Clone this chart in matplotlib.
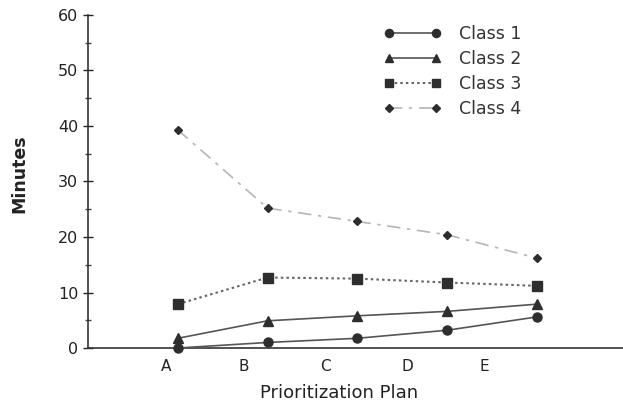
import matplotlib
matplotlib.use("Agg")
import matplotlib.pyplot as plt
from matplotlib.ticker import MultipleLocator

plans = ["A", "B", "C", "D", "E"]
class1 = [0.0, 1.0, 1.75, 3.2, 5.6]
class2 = [1.75, 4.9, 5.8, 6.6, 7.9]
class3 = [7.9, 12.7, 12.5, 11.8, 11.2]
class4 = [39.3, 25.2, 22.8, 20.4, 16.2]

point_x = [0, 1, 2, 3, 4]
label_x = [-0.13, 0.74, 1.65, 2.56, 3.41]

plt.rcParams['font.family'] = ['DejaVu Sans']
fig = plt.figure(figsize=(6.23, 4.04), dpi=100)
ax = fig.add_axes([0.1413, 0.1386, 0.8587, 0.8243])

ink = "#2e2e2e"
ax.plot(point_x, class1, color="#555555", lw=1.2, marker="o", ms=6.5,
        mfc=ink, mec=ink, label="Class 1", clip_on=False, zorder=3)
ax.plot(point_x, class2, color="#555555", lw=1.2, marker="^", ms=6.5,
        mfc=ink, mec=ink, label="Class 2", clip_on=False, zorder=3)
ax.plot(point_x, class3, color="#666666", lw=1.5, ls=(0, (1.2, 1.5)), marker="s", ms=6.5,
        mfc=ink, mec=ink, label="Class 3", clip_on=False, zorder=3)
ax.plot(point_x, class4, color="#b5b5b5", lw=1.2, ls=(0, (8, 4, 2, 4)), marker="D", ms=4.5,
        mfc=ink, mec=ink, label="Class 4", clip_on=False, zorder=3)

ax.set_xlim(-1.0, 4.96)
ax.set_ylim(0, 60)
ax.set_xticks(label_x)
ax.set_xticklabels(plans, fontsize=11, color="#222222")
ax.tick_params(axis="x", length=0, pad=8)
ax.yaxis.set_major_locator(MultipleLocator(10))
ax.yaxis.set_minor_locator(MultipleLocator(5))
ax.tick_params(axis="y", which="major", direction="inout", length=7, width=1, labelsize=11.5,
               colors="#222222")
ax.tick_params(axis="y", which="minor", direction="inout", length=5, width=1, colors="#444444")
for s in ["top", "right"]:
    ax.spines[s].set_visible(False)
ax.spines["left"].set_color("#333333")
ax.spines["bottom"].set_color("#333333")
ax.spines["left"].set_linewidth(1.2)
ax.spines["bottom"].set_linewidth(1.2)

ax.set_ylabel("Minutes", fontsize=12.5, fontweight="bold", color="#222222")
ax.yaxis.set_label_coords(-0.112, 0.523)
ax.set_xlabel("Prioritization Plan", fontsize=13, color="#222222")
ax.xaxis.set_label_coords(0.469, -0.108)

leg = ax.legend(loc="upper left", bbox_to_anchor=(0.54, 0.99), borderaxespad=0,
                frameon=False, numpoints=2, markerscale=0.9,
                handlelength=3.3, fontsize=12.5, labelspacing=0.4, handletextpad=1.0)
for t in leg.get_texts():
    t.set_color("#333333")

fig.savefig("out.png", dpi=100)
